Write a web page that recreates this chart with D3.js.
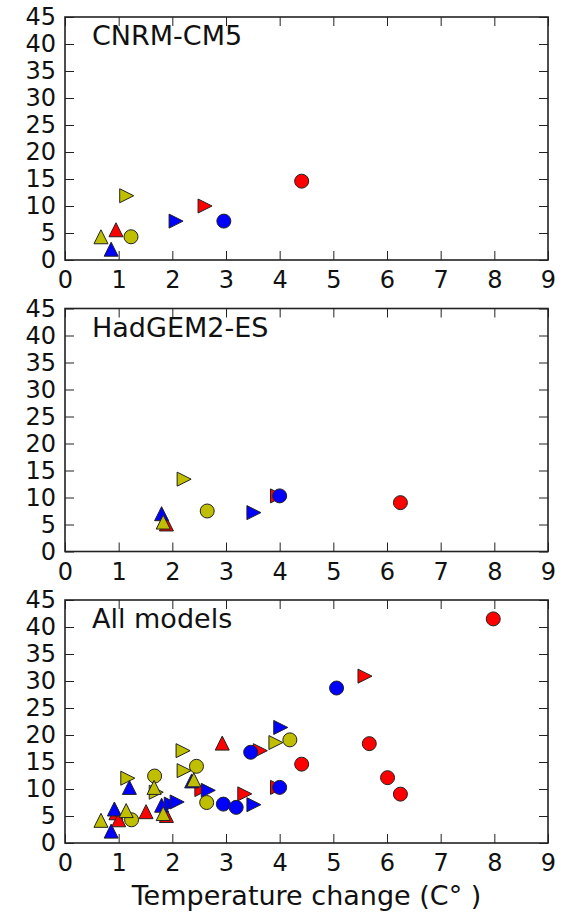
<!DOCTYPE html>
<html>
<head>
<meta charset="utf-8">
<script src="https://cdn.jsdelivr.net/npm/d3@7"></script>
<style>
  body { margin: 0; background: #fff; }
  svg { display: block; }
  text { font-family: "DejaVu Sans", sans-serif; fill: #111; }
</style>
</head>
<body>
<div id="chart"></div>
<script>
// tick labels
const xTicks = [0, 1, 2, 3, 4, 5, 6, 7, 8, 9]
const yTicks = [0, 5, 10, 15, 20, 25, 30, 35, 40, 45]
const panelTitles = ["CNRM-CM5", "HadGEM2-ES", "All models"]
const xLabel = "Temperature change (C\u00b0 )"

const scenarioColors = { r: "#ff0000", b: "#0000ff", y: "#bfbf00" }

// [temperature change, value, scenario colour, marker]   o = circle, > = right triangle, ^ = up triangle
const cnrmPoints = [
    [2.61, 10.0, "r", ">"],
    [1.15, 11.9, "y", ">"],
    [2.07, 7.2, "b", ">"],
    [4.41, 14.6, "r", "o"],
    [2.96, 7.2, "b", "o"],
    [1.23, 4.3, "y", "o"],
    [0.95, 5.6, "r", "^"],
    [0.86, 2.0, "b", "^"],
    [0.67, 4.3, "y", "^"]
]
const hadgemPoints = [
    [3.96, 10.3, "r", ">"],
    [2.22, 13.4, "y", ">"],
    [3.52, 7.2, "b", ">"],
    [6.25, 9.05, "r", "o"],
    [4.00, 10.3, "b", "o"],
    [2.65, 7.5, "y", "o"],
    [1.89, 5.1, "r", "^"],
    [1.80, 7.0, "b", "^"],
    [1.83, 5.45, "y", "^"]
]
const allPoints = [
    [5.59, 30.9, "r", ">"],
    [3.64, 17.1, "r", ">"],
    [2.55, 9.9, "r", ">"],
    [3.35, 9.1, "r", ">"],
    [3.96, 10.3, "r", ">"],
    [3.93, 18.6, "y", ">"],
    [2.20, 17.1, "y", ">"],
    [2.22, 13.4, "y", ">"],
    [1.17, 12.0, "y", ">"],
    [1.70, 9.4, "y", ">"],
    [4.02, 21.4, "b", ">"],
    [2.67, 9.75, "b", ">"],
    [3.52, 7.1, "b", ">"],
    [1.98, 7.2, "b", ">"],
    [2.09, 7.6, "b", ">"],
    [7.98, 41.5, "r", "o"],
    [5.67, 18.4, "r", "o"],
    [6.01, 12.1, "r", "o"],
    [6.25, 9.05, "r", "o"],
    [4.41, 14.6, "r", "o"],
    [5.06, 28.7, "b", "o"],
    [3.46, 16.8, "b", "o"],
    [4.00, 10.3, "b", "o"],
    [2.95, 7.2, "b", "o"],
    [3.19, 6.6, "b", "o"],
    [4.19, 19.1, "y", "o"],
    [2.45, 14.2, "y", "o"],
    [1.67, 12.4, "y", "o"],
    [2.64, 7.5, "y", "o"],
    [1.24, 4.3, "y", "o"],
    [2.93, 18.5, "r", "^"],
    [1.51, 5.8, "r", "^"],
    [1.89, 5.1, "r", "^"],
    [0.95, 5.6, "r", "^"],
    [1.00, 4.3, "r", "^"],
    [2.36, 11.5, "b", "^"],
    [1.20, 10.3, "b", "^"],
    [1.80, 7.0, "b", "^"],
    [0.92, 6.3, "b", "^"],
    [0.86, 2.2, "b", "^"],
    [2.40, 11.7, "y", "^"],
    [1.66, 10.3, "y", "^"],
    [1.14, 6.0, "y", "^"],
    [1.83, 5.45, "y", "^"],
    [0.67, 4.2, "y", "^"]
]
const panelPoints = [cnrmPoints, hadgemPoints, allPoints]

var width = 566
var height = 913
var margin = { left: 65, right: 18, top: 17 }
var panelH = 243
var panelStep = 291.5
var tickLen = 9
var markerSize = 14

var svg = d3.select("#chart")
    .append("svg")
    .attr("width", width)
    .attr("height", height)

var x = d3.scaleLinear()
    .domain([0, 9])
    .range([margin.left, width - margin.right])

function markerPath(shape) {
    var s = markerSize / 2
    if (shape == ">") {
        return "M" + s + ",0L" + (-s) + "," + (-s) + "L" + (-s) + "," + s + "Z"
    }
    return "M0," + (-s) + "L" + s + "," + s + "L" + (-s) + "," + s + "Z"
}

panelPoints.forEach(function (points, i) {
    var top = margin.top + i * panelStep
    var bottom = top + panelH
    var y = d3.scaleLinear()
        .domain([0, 45])
        .range([bottom, top])

    var g = svg.append("g")

    // markers
    var marks = g.append("g")
        .selectAll("g")
        .data(points)
        .enter()
        .append("g")
        .attr("transform", function (d) { return "translate(" + x(d[0]) + "," + y(d[1]) + ")" })
    marks.each(function (d) {
        var m = d3.select(this)
        var el
        if (d[3] == "o") {
            el = m.append("circle").attr("r", markerSize / 2)
        }
        else {
            el = m.append("path").attr("d", markerPath(d[3]))
        }
        el.style("fill", scenarioColors[d[2]])
            .style("stroke", "#222")
            .style("stroke-width", "1px")
    })

    // axes, ticks pointing inwards on every side
    var xb = g.append("g")
        .attr("transform", "translate(0," + bottom + ")")
        .call(d3.axisBottom(x).tickValues(xTicks).tickSizeInner(-tickLen).tickSizeOuter(0).tickPadding(11))
    var xt = g.append("g")
        .attr("transform", "translate(0," + top + ")")
        .call(d3.axisTop(x).tickValues(xTicks).tickSizeInner(-tickLen).tickSizeOuter(0).tickFormat(""))
    var yl = g.append("g")
        .attr("transform", "translate(" + x(0) + ",0)")
        .call(d3.axisLeft(y).tickValues(yTicks).tickSizeInner(-tickLen).tickSizeOuter(0).tickPadding(9))
    var yr = g.append("g")
        .attr("transform", "translate(" + x(9) + ",0)")
        .call(d3.axisRight(y).tickValues(yTicks).tickSizeInner(-tickLen).tickSizeOuter(0).tickFormat(""))

    ;[xb, xt, yl, yr].forEach(function (a) {
        a.select(".domain").remove()
        a.selectAll("line").style("stroke", "#222").style("stroke-width", "1px")
        a.selectAll("text")
            .style("font-size", "24px")
            .style("fill", "#111")
            .attr("font-family", null)
    })

    g.append("rect")
        .attr("x", x(0))
        .attr("y", top)
        .attr("width", x(9) - x(0))
        .attr("height", bottom - top)
        .style("fill", "none")
        .style("stroke", "#222")
        .style("stroke-width", "1.6px")

    g.append("text")
        .attr("x", x(0) + 27)
        .attr("y", top + 28)
        .style("font-size", "27px")
        .text(panelTitles[i])

    if (i == panelPoints.length - 1) {
        svg.append("text")
            .attr("x", (x(0) + x(9)) / 2)
            .attr("y", 905)
            .style("text-anchor", "middle")
            .style("font-size", "27px")
            .text(xLabel)
    }
})
</script>
</body>
</html>
